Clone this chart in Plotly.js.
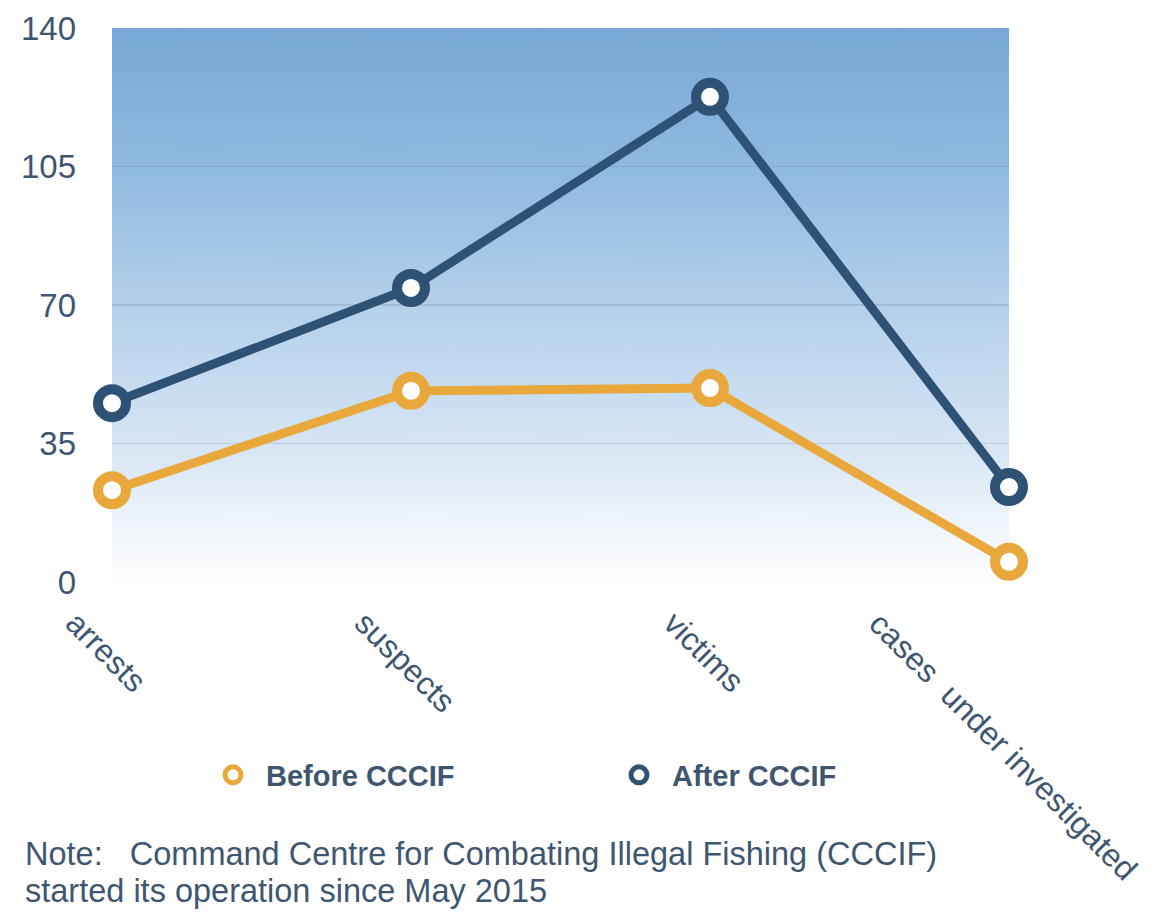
<!DOCTYPE html>
<html>
<head>
<meta charset="utf-8">
<script src="https://cdn.plot.ly/plotly-3.0.1.min.js"></script>
<style>html,body{margin:0;padding:0;background:#fff;}#chart{width:1155px;height:913px;}</style>
</head>
<body>
<div id="chart"></div>
<script>
// ---- data ----
const categories = ["arrests", "suspects", "victims", "cases&nbsp; under investigated"];
const beforeValues = [23.2, 48.3, 49, 5.1];
const afterValues = [45.2, 74.3, 122.6, 24];
const yTicks = [0, 35, 70, 105, 140];
const seriesNames = ["Before CCCIF", "After CCCIF"];
const noteLines = ["Note:&nbsp;&nbsp; Command Centre for Combating Illegal Fishing (CCCIF)", "started its operation since May 2015"];

// ---- styling ----
const textColor = "#3f5670";
const beforeColor = "#e9a83c";
const afterColor = "#2d5276";
const FONT = "Liberation Sans, Arial, Helvetica, sans-serif";

// gradient background image (style only)
const cv = document.createElement("canvas");
cv.width = 20; cv.height = 400;
const ctx = cv.getContext("2d");
const g = ctx.createLinearGradient(0, 0, 0, 400);
g.addColorStop(0, "rgb(120,168,214)");
g.addColorStop(0.25, "rgb(143,186,225)");
g.addColorStop(0.5, "rgb(180,208,235)");
g.addColorStop(0.75, "rgb(214,229,244)");
g.addColorStop(0.93, "rgb(244,248,252)");
g.addColorStop(1, "rgb(255,255,255)");
ctx.fillStyle = g; ctx.fillRect(0, 0, 20, 400);
const gradURL = cv.toDataURL("image/png");

const xIdx = categories.map((c, i) => i);

const traces = [
  {
    x: xIdx, y: beforeValues, type: "scatter", mode: "lines+markers",
    name: seriesNames[0], showlegend: false, cliponaxis: false,
    line: {color: beforeColor, width: 9},
    marker: {symbol: "circle", size: 28, color: "#ffffff", line: {color: beforeColor, width: 10}}
  },
  {
    x: xIdx, y: afterValues, type: "scatter", mode: "lines+markers",
    name: seriesNames[1], showlegend: false, cliponaxis: false,
    line: {color: afterColor, width: 9},
    marker: {symbol: "circle", size: 28, color: "#ffffff", line: {color: afterColor, width: 10}}
  },
  {
    x: [null], y: [null], type: "scatter", mode: "markers", name: seriesNames[0], showlegend: true,
    marker: {symbol: "circle", size: 20, color: "#ffffff", line: {color: beforeColor, width: 8}}
  },
  {
    x: [null], y: [null], type: "scatter", mode: "markers", name: seriesNames[1], showlegend: true,
    marker: {symbol: "circle", size: 20, color: "#ffffff", line: {color: afterColor, width: 8}}
  }
];

const annotations = categories.map((c, i) => ({
  x: i, y: (582 - 602) / 554, xref: "x", yref: "paper",
  text: c, showarrow: false, textangle: 45,
  xanchor: "center", yanchor: "top", xshift: -6,
  font: {family: FONT, size: 32, color: textColor}
}));
noteLines.forEach((t, i) => {
  annotations.push({
    x: (24 - 112) / 897, xref: "paper", xanchor: "left",
    y: (582 - (854 + i * 37)) / 554, yref: "paper", yanchor: "middle",
    text: t, showarrow: false, align: "left", borderpad: 0,
    font: {family: FONT, size: 32.5, color: textColor}
  });
});

const layout = {
  width: 1155, height: 913,
  margin: {l: 112, r: 146, t: 28, b: 331},
  paper_bgcolor: "#ffffff", plot_bgcolor: "rgba(0,0,0,0)",
  showlegend: true,
  legend: {
    orientation: "h", x: (200 - 112) / 897, xanchor: "left", y: (582 - 775) / 554, yanchor: "middle",
    font: {family: FONT, size: 29, color: textColor, weight: "bold"},
    entrywidth: 335, itemwidth: 56, bgcolor: "rgba(0,0,0,0)"
  },
  xaxis: {
    type: "linear", range: [0, 3], showticklabels: false, showgrid: false,
    zeroline: false, showline: false, ticks: "", fixedrange: true
  },
  yaxis: {
    range: [0, 140], tickvals: yTicks, ticktext: yTicks.map(String),
    showgrid: true, gridcolor: "rgba(105,120,135,0.22)", gridwidth: 1.5,
    zeroline: false, showline: false, ticks: "",
    ticklabelstandoff: 35,
    tickfont: {family: FONT, size: 33, color: textColor}
  },
  images: [{
    source: gradURL, xref: "paper", yref: "paper", x: 0, y: 1, sizex: 1, sizey: 1,
    sizing: "stretch", xanchor: "left", yanchor: "top", layer: "below"
  }],
  annotations: annotations
};

Plotly.newPlot("chart", traces, layout, {displayModeBar: false, staticPlot: true});
</script>
</body>
</html>
